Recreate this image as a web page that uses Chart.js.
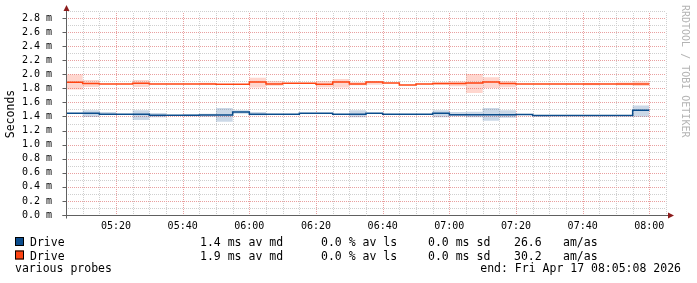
<!DOCTYPE html>
<html>
<head>
<meta charset="utf-8">
<script src="https://cdn.jsdelivr.net/npm/chart.js@4.4.0/dist/chart.umd.min.js"></script>
<style>
    html, body { margin: 0; padding: 0; background: #fff; }
    #chart { display: block; }
</style>
</head>
<body>
<canvas id="chart" width="697" height="283"></canvas>
<script>
// Smokeping style latency graph

// Start of each 5 minute step
const stepTimes = ['05:05', '05:10', '05:15', '05:20', '05:25', '05:30', '05:35', '05:40', '05:45', '05:50',
    '05:55', '06:00', '06:05', '06:10', '06:15', '06:20', '06:25', '06:30', '06:35', '06:40',
    '06:45', '06:50', '06:55', '07:00', '07:05', '07:10', '07:15', '07:20', '07:25', '07:30',
    '07:35', '07:40', '07:45', '07:50', '07:55'];
const startTime = '05:05';
const lastDataTime = '08:00';
const endTime = '08:05';

const xTickLabels = ['05:20', '05:40', '06:00', '06:20', '06:40', '07:00', '07:20', '07:40', '08:00'];
const yTickValues = [0, 0.2, 0.4, 0.6, 0.8, 1.0, 1.2, 1.4, 1.6, 1.8, 2.0, 2.2, 2.4, 2.6, 2.8];
const yMax = 2.87;

// Drive 1 (blue) median and smoke range, in ms
const blueMedian = [1.445, 1.445, 1.431, 1.431, 1.431, 1.417, 1.417, 1.417, 1.421, 1.421,
    1.464, 1.431, 1.431, 1.431, 1.445, 1.445, 1.431, 1.431, 1.445, 1.431,
    1.431, 1.431, 1.445, 1.426, 1.426, 1.426, 1.426, 1.428, 1.412, 1.412,
    1.412, 1.412, 1.412, 1.412, 1.488];
const blueLow = [1.445, 1.393, 1.421, 1.431, 1.350, 1.390, 1.417, 1.403, 1.397, 1.326,
    1.440, 1.417, 1.431, 1.431, 1.445, 1.445, 1.431, 1.390, 1.445, 1.431,
    1.431, 1.431, 1.390, 1.403, 1.390, 1.340, 1.380, 1.428, 1.400, 1.412,
    1.412, 1.412, 1.412, 1.412, 1.397];
const blueHigh = [1.445, 1.488, 1.465, 1.431, 1.490, 1.450, 1.417, 1.431, 1.440, 1.521,
    1.488, 1.464, 1.431, 1.431, 1.445, 1.445, 1.431, 1.490, 1.445, 1.431,
    1.431, 1.431, 1.490, 1.464, 1.466, 1.521, 1.490, 1.428, 1.420, 1.412,
    1.412, 1.412, 1.412, 1.412, 1.554];

// Drive 2 (red) median and smoke range, in ms
const redMedian = [1.886, 1.867, 1.862, 1.862, 1.871, 1.862, 1.862, 1.862, 1.862, 1.857,
    1.857, 1.890, 1.862, 1.871, 1.871, 1.857, 1.890, 1.862, 1.890, 1.876,
    1.848, 1.862, 1.867, 1.867, 1.876, 1.890, 1.867, 1.862, 1.862, 1.862,
    1.862, 1.862, 1.862, 1.862, 1.862];
const redLow = [1.783, 1.820, 1.862, 1.862, 1.820, 1.862, 1.862, 1.862, 1.855, 1.857,
    1.857, 1.810, 1.838, 1.871, 1.871, 1.815, 1.810, 1.843, 1.852, 1.876,
    1.848, 1.862, 1.848, 1.829, 1.734, 1.805, 1.815, 1.862, 1.862, 1.862,
    1.862, 1.843, 1.862, 1.843, 1.833];
const redHigh = [1.997, 1.919, 1.862, 1.862, 1.919, 1.862, 1.862, 1.862, 1.880, 1.857,
    1.857, 1.951, 1.905, 1.871, 1.871, 1.905, 1.933, 1.890, 1.900, 1.876,
    1.848, 1.862, 1.886, 1.900, 2.004, 1.957, 1.905, 1.862, 1.862, 1.862,
    1.862, 1.876, 1.862, 1.881, 1.900];

// Legend rows
const legendNames = ['Drive', 'Drive'];
const legendMedian = [1.4, 1.9];
const legendLoss = [0.0, 0.0];
const legendSd = [0.0, 0.0];
const legendAmAs = [26.6, 30.2];
const footerLeft = 'various probes';
const footerRight = 'end: Fri Apr 17 08:05:08 2026';
const watermark = 'RRDTOOL / TOBI OETIKER';

const lineColors = ['#0b4c8c', '#ff4412'];
const smokeColors = ['rgba(10, 70, 140, 0.21)', 'rgba(255, 70, 30, 0.22)'];
const mono = '"DejaVu Sans Mono", monospace';

function toMin(t) {
    const [h, m] = t.split(':').map(Number);
    const [sh, sm] = startTime.split(':').map(Number);
    return h * 60 + m - (sh * 60 + sm);
}

// stepped points, last value held until the end of the last step
function stepPoints(values) {
    const pts = stepTimes.map((t, i) => ({ x: toMin(t), y: values[i] }));
    pts.push({ x: toMin(lastDataTime), y: values[values.length - 1] });
    return pts;
}

function smokeSet(values, fill, color) {
    return {
        data: stepPoints(values),
        stepped: true,
        borderColor: 'rgba(0,0,0,0)',
        borderWidth: 0,
        pointRadius: 0,
        backgroundColor: color,
        fill: fill,
        order: 2
    };
}

function medianSet(values, color) {
    return {
        data: stepPoints(values),
        stepped: true,
        borderColor: color,
        borderWidth: 1.5,
        pointRadius: 0,
        fill: false,
        order: 1
    };
}

const px = v => Math.round(v) + 0.5;

const rrdPlugin = {
    id: 'rrdLook',
    beforeDatasetsDraw(chart) {
        const { ctx, chartArea: a, scales: { x, y } } = chart;
        ctx.save();
        ctx.lineWidth = 1;
        ctx.setLineDash([1, 1]);

        // minor grid
        ctx.strokeStyle = '#cfcfcf';
        ctx.beginPath();
        stepTimes.concat([lastDataTime, endTime]).forEach(t => {
            if (xTickLabels.includes(t) || t === startTime) return;
            const xp = px(x.getPixelForValue(toMin(t)));
            ctx.moveTo(xp, a.top);
            ctx.lineTo(xp, a.bottom);
        });
        yTickValues.forEach(v => {
            const yp = px(y.getPixelForValue(v + 0.1));
            ctx.moveTo(a.left, yp);
            ctx.lineTo(a.right, yp);
        });
        ctx.stroke();

        // major grid
        ctx.strokeStyle = '#e9a0a0';
        ctx.beginPath();
        xTickLabels.forEach(t => {
            const xp = px(x.getPixelForValue(toMin(t)));
            ctx.moveTo(xp, a.top);
            ctx.lineTo(xp, a.bottom);
        });
        yTickValues.forEach(v => {
            if (v === 0) return;
            const yp = px(y.getPixelForValue(v));
            ctx.moveTo(a.left, yp);
            ctx.lineTo(a.right, yp);
        });
        ctx.stroke();
        ctx.restore();
    },
    afterDatasetsDraw(chart) {
        const { ctx, chartArea: a, scales: { y } } = chart;
        const x0 = px(a.left);
        const y0 = Math.round(a.bottom) + 0.5;
        ctx.save();
        ctx.lineWidth = 1;
        ctx.strokeStyle = '#606060';
        ctx.beginPath();
        ctx.moveTo(x0, a.top - 4);
        ctx.lineTo(x0, y0 + 3);
        ctx.moveTo(x0 - 4, y0);
        ctx.lineTo(a.right + 4, y0);
        yTickValues.forEach(v => {
            const yp = px(y.getPixelForValue(v));
            ctx.moveTo(x0 - 4, yp);
            ctx.lineTo(x0, yp);
        });
        ctx.stroke();

        // arrow heads
        ctx.fillStyle = '#8c1c1c';
        ctx.beginPath();
        ctx.moveTo(x0, a.top - 8);
        ctx.lineTo(x0 - 3, a.top - 2);
        ctx.lineTo(x0 + 3, a.top - 2);
        ctx.closePath();
        ctx.fill();
        ctx.beginPath();
        ctx.moveTo(a.right + 8, y0);
        ctx.lineTo(a.right + 2, y0 - 3);
        ctx.lineTo(a.right + 2, y0 + 3);
        ctx.closePath();
        ctx.fill();
        ctx.restore();
    },
    afterDraw(chart) {
        const { ctx } = chart;
        ctx.save();
        ctx.font = '11.5px ' + mono;
        ctx.fillStyle = '#000';
        ctx.textBaseline = 'alphabetic';
        const rowBase = [246, 259.5];
        legendNames.forEach((name, i) => {
            const b = rowBase[i];
            ctx.fillStyle = lineColors[i];
            ctx.fillRect(15, b - 9, 9, 9);
            ctx.strokeStyle = '#000';
            ctx.lineWidth = 1;
            ctx.strokeRect(15.5, b - 8.5, 8, 8);
            ctx.fillStyle = '#000';
            ctx.textAlign = 'left';
            ctx.fillText(name, 30, b);
            ctx.fillText(legendMedian[i].toFixed(1) + ' ms av md', 200, b);
            ctx.fillText(legendLoss[i].toFixed(1) + ' % av ls', 321, b);
            ctx.fillText(legendSd[i].toFixed(1) + ' ms sd', 428, b);
            ctx.fillText(legendAmAs[i].toFixed(1), 514, b);
            ctx.fillText('am/as', 563, b);
        });
        ctx.fillText(footerLeft, 15, 272);
        ctx.textAlign = 'right';
        ctx.fillText(footerRight, 681, 272);

        // watermark on the right edge
        ctx.translate(682, 5);
        ctx.rotate(Math.PI / 2);
        ctx.textAlign = 'left';
        ctx.font = '10px ' + mono;
        ctx.fillStyle = '#b4b4b4';
        ctx.fillText(watermark, 0, 0);
        ctx.restore();
    }
};

const ctx = document.getElementById('chart');
new Chart(ctx, {
    type: 'line',
    data: {
        datasets: [
            smokeSet(blueLow, false, smokeColors[0]),
            smokeSet(blueHigh, '-1', smokeColors[0]),
            smokeSet(redLow, false, smokeColors[1]),
            smokeSet(redHigh, '-1', smokeColors[1]),
            medianSet(blueMedian, lineColors[0]),
            medianSet(redMedian, lineColors[1])
        ]
    },
    options: {
        responsive: false,
        animation: false,
        devicePixelRatio: 1,
        layout: {
            padding: { top: 13, right: 31, bottom: 0, left: 0 }
        },
        plugins: {
            legend: { display: false },
            tooltip: { enabled: false }
        },
        scales: {
            x: {
                type: 'linear',
                min: 0,
                max: toMin(endTime),
                grid: { display: false },
                border: { display: false },
                afterBuildTicks: scale => {
                    scale.ticks = xTickLabels.map(t => ({ value: toMin(t) }));
                },
                afterFit: scale => { scale.height = 68; },
                ticks: {
                    autoSkip: false,
                    maxRotation: 0,
                    padding: -3,
                    color: '#000',
                    font: { family: mono, size: 10 },
                    callback: (value, index) => xTickLabels[index]
                }
            },
            y: {
                min: 0,
                max: yMax,
                grid: { display: false },
                border: { display: false },
                afterBuildTicks: scale => {
                    scale.ticks = yTickValues.map(v => ({ value: v }));
                },
                afterFit: scale => { scale.width = 66; },
                title: {
                    display: true,
                    text: 'Seconds',
                    color: '#000',
                    font: { family: mono, size: 11.5 },
                    padding: { top: 4, bottom: 0 }
                },
                ticks: {
                    autoSkip: false,
                    padding: 6,
                    color: '#000',
                    font: { family: mono, size: 10 },
                    callback: value => value.toFixed(1) + ' m'
                }
            }
        }
    },
    plugins: [rrdPlugin]
});
</script>
</body>
</html>
